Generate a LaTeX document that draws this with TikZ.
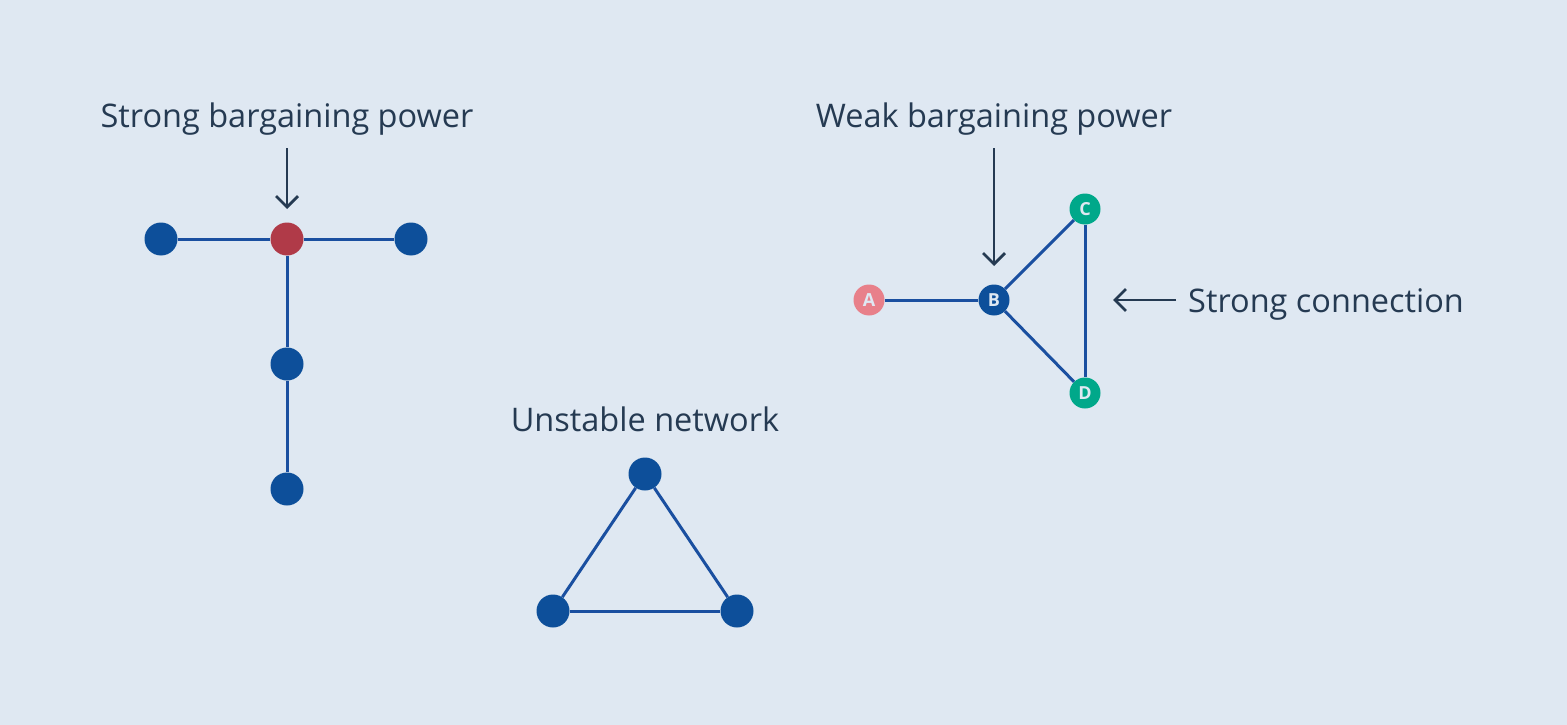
\documentclass[tikz,border=0pt]{standalone}
\usepackage{fontspec}
\setmainfont{Open Sans}
\usetikzlibrary{arrows.meta}
\definecolor{bg}{HTML}{DFE8F2}
\definecolor{nodeblue}{HTML}{0D4F9A}
\definecolor{edgeblue}{HTML}{1A4FA0}
\definecolor{nodered}{HTML}{B03A48}
\definecolor{nodepink}{HTML}{E8808A}
\definecolor{nodegreen}{HTML}{00A88A}
\definecolor{txt}{HTML}{253A52}
\tikzset{
  dot/.style={circle, fill=nodeblue, inner sep=0pt, minimum size=33pt},
  ldot/.style={circle, inner sep=0pt, minimum size=31pt, text=bg, font=\fontsize{18}{18}\selectfont\bfseries},
  edge/.style={draw=edgeblue, line width=3pt},
  lbl/.style={text=txt, font=\fontsize{32.5}{38}\selectfont, inner sep=0pt, anchor=base},
  pointer/.style={draw=txt, line width=2.7pt, -{Straight Barb[length=11pt, width=22pt, line width=2.7pt]}},
}
\begin{document}
\begin{tikzpicture}[x=1pt, y=-1pt]
\fill[bg] (0,0) rectangle (1567,725);
\useasboundingbox (0,0) rectangle (1567,725);
% T network
\node[dot] (t1) at (161,239) {};
\node[dot, fill=nodered] (t2) at (287,239) {};
\node[dot] (t3) at (411,239) {};
\node[dot] (t4) at (287,364) {};
\node[dot] (t5) at (287,489) {};
\draw[edge] (t1) -- (t2);
\draw[edge] (t2) -- (t3);
\draw[edge] (t2) -- (t4);
\draw[edge] (t4) -- (t5);
\node[lbl] (sbp) at (287,128) {Strong bargaining power};
\coordinate (sbpa) at (287,148);
\coordinate (sbpb) at (287,209);
\draw[pointer] (sbpa) -- (sbpb);
% triangle
\node[lbl] (un) at (645,431) {Unstable network};
\node[dot] (u1) at (645,474) {};
\node[dot] (u2) at (553,611) {};
\node[dot] (u3) at (737,611) {};
\draw[edge] (u1) -- (u2);
\draw[edge] (u2) -- (u3);
\draw[edge] (u3) -- (u1);
% right network
\node[ldot, fill=nodepink] (a) at (869,300) {A};
\node[ldot, fill=nodeblue] (b) at (994,300) {B};
\node[ldot, fill=nodegreen] (c) at (1085,209) {C};
\node[ldot, fill=nodegreen] (d) at (1085,393) {D};
\draw[edge] (a) -- (b);
\draw[edge] (b) -- (c);
\draw[edge] (b) -- (d);
\draw[edge] (c) -- (d);
\node[lbl] (wbp) at (994,128) {Weak bargaining power};
\coordinate (wbpa) at (994,148);
\coordinate (wbpb) at (994,266);
\draw[pointer] (wbpa) -- (wbpb);
\node[lbl, anchor=base west] (sc) at (1188,312) {Strong connection};
\coordinate (sca) at (1176,300);
\coordinate (scb) at (1113,300);
\draw[pointer] (sca) -- (scb);
\end{tikzpicture}
\end{document}
